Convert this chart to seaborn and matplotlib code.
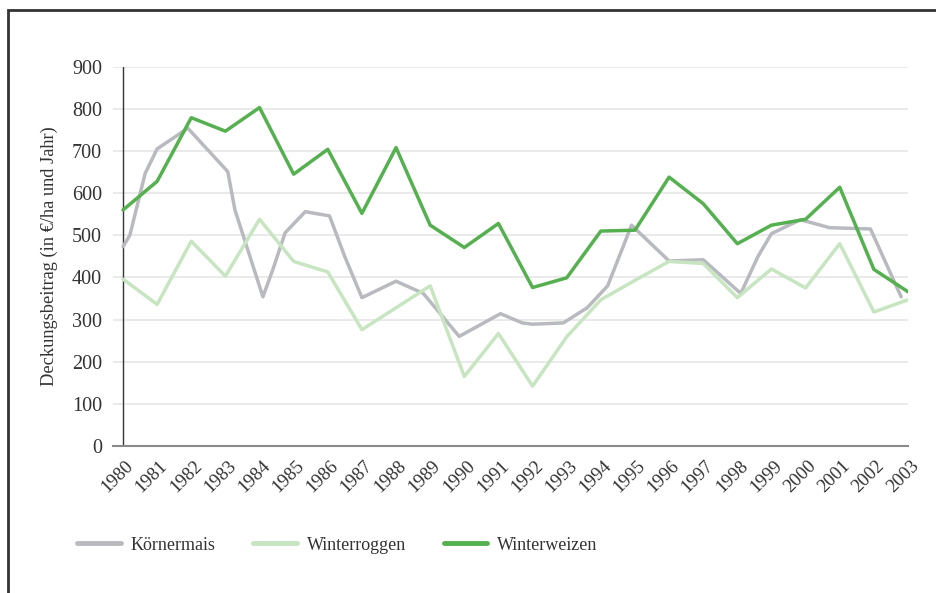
import pandas as pd
import seaborn as sns
import matplotlib.pyplot as plt
from matplotlib.patches import Rectangle
from matplotlib.transforms import ScaledTranslation

# Werte
jahre = list(range(1980, 2004))

weizen = [560, 628, 779, 747, 803, 645, 704, 552, 708, 524, 471, 528,
          376, 399, 510, 512, 638, 575, 480, 524, 538, 614, 419, 366]

roggen = [396, 336, 486, 403, 538, 438, 413, 276, 328, 380, 165, 267,
          142, 259, 347, 393, 438, 433, 352, 420, 375, 480, 318, 347]

# Koernermais hat in der Vorlage Stuetzpunkte zwischen den Jahren
mais_x = [1980.0, 1980.2, 1980.65, 1981.0, 1981.9, 1983.07, 1983.28, 1984.1,
          1984.4, 1984.75, 1985.34, 1986.05, 1986.5, 1987.0, 1988.0, 1988.8,
          1989.85, 1991.06, 1991.7, 1992.0, 1992.9, 1993.6, 1994.2, 1994.9,
          1996.0, 1997.0, 1998.1, 1998.6, 1999.0, 1999.85, 2000.7, 2001.9,
          2002.8]
mais_y = [473, 500, 647, 705, 754, 651, 560, 354,
          421, 506, 556, 546, 449, 352, 391, 362,
          260, 314, 292, 289, 292, 328, 380, 524,
          439, 442, 362, 449, 504, 537, 518, 515,
          354]

kulturen = ["Körnermais", "Winterroggen", "Winterweizen"]
farben = {"Körnermais": "#b9babf", "Winterroggen": "#c6e5c0", "Winterweizen": "#55b050"}

df = pd.concat([
    pd.DataFrame({"jahr": mais_x, "wert": mais_y, "kultur": kulturen[0]}),
    pd.DataFrame({"jahr": jahre, "wert": roggen, "kultur": kulturen[1]}),
    pd.DataFrame({"jahr": jahre, "wert": weizen, "kultur": kulturen[2]}),
])

sns.set_theme(style="white")
plt.rcParams["font.family"] = ["Liberation Serif", "DejaVu Serif"]

fig = plt.figure(figsize=(9.36, 5.93), dpi=100)
ax = fig.add_axes([113 / 936, 1 - 446 / 593, (908 - 113) / 936, (446 - 66.7) / 593])

sns.lineplot(data=df, x="jahr", y="wert", hue="kultur", hue_order=kulturen,
             palette=farben, estimator=None, sort=False, lw=2.5, ax=ax)

ax.set_xlim(1980 - 10 / 34.1, 2003)
ax.set_ylim(0, 900)
ax.set_yticks(range(0, 901, 100))
ax.set_xticks(jahre)
ax.set_xticklabels([])
# Jahreszahlen schraeg, etwas nach rechts unten versetzt
versatz = ax.get_xaxis_transform() + ScaledTranslation(0.02, -0.115, fig.dpi_scale_trans)
for j in jahre:
    ax.text(j, 0, str(j), transform=versatz, rotation=45, ha="right", va="top",
            rotation_mode="anchor", fontsize=13.5, color="#333333", clip_on=False)
ax.tick_params(axis="y", length=0, pad=8, labelsize=14.5, labelcolor="#333333")
ax.tick_params(axis="x", length=0)
ax.grid(axis="y", color="#e6e6e8", lw=1.2)
ax.set_axisbelow(True)
ax.axvline(1980, color="#333333", lw=1, zorder=1)

for s in ["left", "right", "top"]:
    ax.spines[s].set_visible(False)
ax.spines["bottom"].set_color("#8a8a8a")
ax.spines["bottom"].set_linewidth(1.5)

ax.set_xlabel("")
ax.set_ylabel("Deckungsbeitrag (in €/ha und Jahr)", fontsize=13.2, color="#333333", labelpad=10)

handles, labels = ax.get_legend_handles_labels()
for h in handles:
    h.set_linewidth(3.5)
ax.legend_.remove()
fig.legend(handles, labels, loc="center left", bbox_to_anchor=(61 / 936, 1 - 545 / 593),
           ncol=3, frameon=False, fontsize=13, handlelength=2.4, handletextpad=0.55,
           columnspacing=2.1, labelcolor="#333333")

# Rahmen oben und links wie in der Vorlage
fig.patches.append(Rectangle((8 / 936, -0.2), 1.3, 1.2 - 10 / 593, transform=fig.transFigure,
                             fill=False, edgecolor="#333333", lw=2))

fig.savefig("out.png", dpi=100)
